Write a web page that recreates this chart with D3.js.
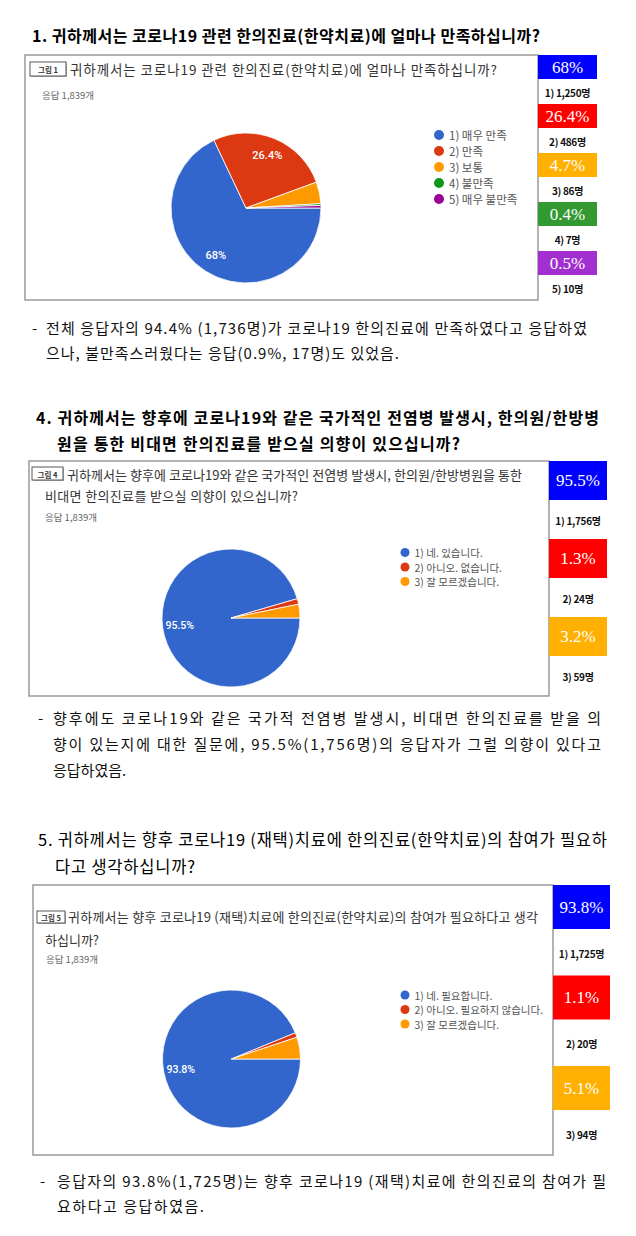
<!DOCTYPE html>
<html>
<head>
<meta charset="utf-8">
<script src="https://cdn.jsdelivr.net/npm/d3@7"></script>
<style>
  body { margin: 0; background: #fff; }
  svg { display: block; }
</style>
</head>
<body>
<div id="chart"></div>
<script>
// ---- data ----
const responses = 1839;

const q1Options = ["1) 매우 만족", "2) 만족", "3) 보통", "4) 불만족", "5) 매우 불만족"];
const q1Percents = [68, 26.4, 4.7, 0.4, 0.5];
const q1Counts = [1250, 486, 86, 7, 10];

const q4Options = ["1) 네. 있습니다.", "2) 아니오. 없습니다.", "3) 잘 모르겠습니다."];
const q4Percents = [95.5, 1.3, 3.2];
const q4Counts = [1756, 24, 59];

const q5Options = ["1) 네. 필요합니다.", "2) 아니오. 필요하지 않습니다.", "3) 잘 모르겠습니다."];
const q5Percents = [93.8, 1.1, 5.1];
const q5Counts = [1725, 20, 94];

const q1Title = ["1. 귀하께서는 코로나19 관련 한의진료(한약치료)에 얼마나 만족하십니까?"];
const q4Title = ["4. 귀하께서는 향후에 코로나19와 같은 국가적인 전염병 발생시, 한의원/한방병",
                 "원을 통한 비대면 한의진료를 받으실 의향이 있으십니까?"];
const q5Title = ["5. 귀하께서는 향후 코로나19 (재택)치료에 한의진료(한약치료)의 참여가 필요하",
                 "다고 생각하십니까?"];

const q1Question = ["귀하께서는 코로나19 관련 한의진료(한약치료)에 얼마나 만족하십니까?"];
const q4Question = ["귀하께서는 향후에 코로나19와 같은 국가적인 전염병 발생시, 한의원/한방병원을 통한",
                    "비대면 한의진료를 받으실 의향이 있으십니까?"];
const q5Question = ["귀하께서는 향후 코로나19 (재택)치료에 한의진료(한약치료)의 참여가 필요하다고 생각",
                    "하십니까?"];

const q1Note = ["전체 응답자의 94.4% (1,736명)가 코로나19 한의진료에 만족하였다고 응답하였",
                "으나, 불만족스러웠다는 응답(0.9%, 17명)도 있었음."];
const q4Note = ["향후에도 코로나19와 같은 국가적 전염병 발생시, 비대면 한의진료를 받을 의",
                "향이 있는지에 대한 질문에, 95.5%(1,756명)의 응답자가 그럴 의향이 있다고",
                "응답하였음."];
const q5Note = ["응답자의 93.8%(1,725명)는 향후 코로나19 (재택)치료에 한의진료의 참여가 필",
                "요하다고 응답하였음."];

const pieColors = ["#3366cc", "#dc3912", "#ff9900", "#109618", "#990099"];
const boxColors = ["#0000ff", "#ff0000", "#ffb000", "#339933", "#a22fd0"];

// ---- layout (positions only) ----
const sections = [
  {
    options: q1Options, percents: q1Percents, counts: q1Counts,
    title: q1Title, question: q1Question, note: q1Note, fig: "그림 1",
    titlePos: [{x: 32, y: 35, w: 508}], titleWeight: 700, titleSize: 16,
    box: {x: 25, y: 55, w: 513, h: 245},
    figBox: {x: 30, y: 62, w: 36, h: 14},
    qPos: [{x: 70, y: 69, w: 427}], qSize: 13.5,
    resp: {x: 42, y: 95},
    pie: {cx: 246, cy: 208, r: 75, label: 11},
    legend: {x: 439, y: 135, step: 16, r: 5, size: 11.5},
    side: {x: 538, w: 59, top: 55, step: 49, h: 24, labelOff: 37, size: 17},
    note_: {dashX: 32, lines: [{x: 46, y: 327, w: 541}, {x: 46, y: 352, w: 353}]}
  },
  {
    options: q4Options, percents: q4Percents, counts: q4Counts,
    title: q4Title, question: q4Question, note: q4Note, fig: "그림 4",
    titlePos: [{x: 36, y: 417, w: 563}, {x: 57, y: 443, w: 403}], titleWeight: 700, titleSize: 16,
    box: {x: 29, y: 461, w: 520, h: 235},
    figBox: {x: 32, y: 467, w: 31, h: 13},
    qPos: [{x: 67, y: 474, w: 455}, {x: 45, y: 495, w: 253}], qSize: 13,
    resp: {x: 45, y: 517},
    pie: {cx: 231, cy: 618, r: 69, label: 10.5},
    legend: {x: 405, y: 552.5, step: 14.5, r: 4.5, size: 10.5},
    side: {x: 549, w: 58, top: 461, step: 78, h: 39, labelOff: 59, size: 17},
    note_: {dashX: 38, lines: [{x: 53, y: 717, w: 548}, {x: 53, y: 743, w: 548}, {x: 53, y: 769, w: null}]}
  },
  {
    options: q5Options, percents: q5Percents, counts: q5Counts,
    title: q5Title, question: q5Question, note: q5Note, fig: "그림 5",
    titlePos: [{x: 38, y: 839, w: 569}, {x: 55, y: 866, w: 140}], titleWeight: 400, titleSize: 16.5,
    box: {x: 33, y: 885, w: 520, h: 270},
    figBox: {x: 37, y: 911, w: 28, h: 12},
    qPos: [{x: 68, y: 916, w: 470}, {x: 45, y: 939, w: null}], qSize: 13,
    resp: {x: 46, y: 959},
    pie: {cx: 231.5, cy: 1059, r: 69, label: 10.5},
    legend: {x: 405, y: 995, step: 14.5, r: 4.5, size: 10.5},
    side: {x: 553, w: 57, top: 885, step: 90.5, h: 44, labelOff: 68, size: 17},
    note_: {dashX: 40, lines: [{x: 57, y: 1180, w: 549}, {x: 57, y: 1205, w: 147}]}
  }
];

const W = 636, H = 1236;
const KR = "'Noto Sans CJK KR', 'Noto Sans', sans-serif";

const svg = d3.select("#chart").append("svg")
    .attr("width", W)
    .attr("height", H);

svg.append("rect").attr("width", W).attr("height", H).attr("fill", "#fff");

const fmt = d3.format(",");

// stretch a text line to a measured width, like justified type
function fitLine(sel, w) {
  if (w) sel.attr("textLength", w).attr("lengthAdjust", "spacing");
}

sections.forEach(function(s) {
  const g = svg.append("g");

  // section heading
  s.title.forEach(function(line, i) {
    const p = s.titlePos[i];
    g.append("text")
        .attr("x", p.x).attr("y", p.y)
        .attr("dominant-baseline", "central")
        .attr("font-family", KR)
        .attr("font-size", s.titleSize)
        .attr("font-weight", s.titleWeight)
        .attr("fill", "#000")
        .text(line)
        .call(fitLine, p.w);
  });

  // chart frame
  g.append("rect")
      .attr("x", s.box.x).attr("y", s.box.y)
      .attr("width", s.box.w).attr("height", s.box.h)
      .attr("fill", "#fff")
      .attr("stroke", "#8a8a8a")
      .attr("stroke-width", 1.3);

  // "그림 n" tag
  g.append("rect")
      .attr("x", s.figBox.x + 1).attr("y", s.figBox.y + 1)
      .attr("width", s.figBox.w).attr("height", s.figBox.h)
      .attr("fill", "#bbb");
  g.append("rect")
      .attr("x", s.figBox.x).attr("y", s.figBox.y)
      .attr("width", s.figBox.w).attr("height", s.figBox.h)
      .attr("fill", "#fff")
      .attr("stroke", "#444")
      .attr("stroke-width", 0.9);
  g.append("text")
      .attr("x", s.figBox.x + s.figBox.w / 2).attr("y", s.figBox.y + s.figBox.h / 2 + 0.5)
      .attr("text-anchor", "middle")
      .attr("dominant-baseline", "central")
      .attr("font-family", KR)
      .attr("font-size", 7.5)
      .attr("font-weight", 700)
      .attr("fill", "#333")
      .text(s.fig);

  // question text inside the frame
  s.question.forEach(function(line, i) {
    const p = s.qPos[i];
    g.append("text")
        .attr("x", p.x).attr("y", p.y)
        .attr("dominant-baseline", "central")
        .attr("font-family", KR)
        .attr("font-size", s.qSize)
        .attr("fill", "#333")
        .text(line)
        .call(fitLine, p.w);
  });

  g.append("text")
      .attr("x", s.resp.x).attr("y", s.resp.y)
      .attr("dominant-baseline", "central")
      .attr("font-family", KR)
      .attr("font-size", 9.5)
      .attr("fill", "#666")
      .text("응답 " + fmt(responses) + "개");

  // pie
  const rows = s.options.map(function(o, i) {
    return {label: o, pct: s.percents[i], count: s.counts[i], i: i};
  });

  const pie = d3.pie()
      .sort(null)
      .value(function(d) { return d.count; })
      .startAngle(Math.PI / 2)
      .endAngle(Math.PI / 2 + 2 * Math.PI);

  const arc = d3.arc().innerRadius(0).outerRadius(s.pie.r);
  const labelArc = d3.arc().innerRadius(s.pie.r * 0.75).outerRadius(s.pie.r * 0.75);

  const pg = g.append("g")
      .attr("transform", `translate(${s.pie.cx},${s.pie.cy})`);

  pg.selectAll("path")
    .data(pie(rows))
    .join("path")
      .attr("d", arc)
      .attr("fill", function(d) { return pieColors[d.data.i]; })
      .attr("stroke", "#fff")
      .attr("stroke-width", 0.8);

  pg.selectAll("text")
    .data(pie(rows).filter(function(d) { return d.data.pct >= 10; }))
    .join("text")
      .attr("transform", function(d) { return `translate(${labelArc.centroid(d)})`; })
      .attr("text-anchor", "middle")
      .attr("dominant-baseline", "central")
      .attr("font-family", "Roboto, Arial, sans-serif")
      .attr("font-size", s.pie.label)
      .attr("font-weight", 500)
      .attr("fill", "#fff")
      .text(function(d) { return d.data.pct + "%"; });

  // legend
  const lg = g.append("g")
      .selectAll("g")
      .data(rows)
      .join("g")
      .attr("transform", function(d) {
        return `translate(${s.legend.x},${s.legend.y + d.i * s.legend.step})`;
      });
  lg.append("circle")
      .attr("r", s.legend.r)
      .attr("fill", function(d) { return pieColors[d.i]; });
  lg.append("text")
      .attr("x", s.legend.r + 5)
      .attr("dominant-baseline", "central")
      .attr("font-family", KR)
      .attr("font-size", s.legend.size)
      .attr("fill", "#555")
      .text(function(d) { return d.label; });

  // side column: coloured percentage boxes + counts
  const sg = g.append("g")
      .selectAll("g")
      .data(rows)
      .join("g")
      .attr("transform", function(d) {
        return `translate(${s.side.x},${s.side.top + d.i * s.side.step})`;
      });
  sg.append("rect")
      .attr("width", s.side.w)
      .attr("height", s.side.h)
      .attr("fill", function(d) { return boxColors[d.i]; });
  sg.append("text")
      .attr("x", s.side.w / 2)
      .attr("y", s.side.h / 2)
      .attr("text-anchor", "middle")
      .attr("dominant-baseline", "central")
      .attr("font-family", "'Liberation Serif', 'DejaVu Serif', serif")
      .attr("font-size", s.side.size)
      .attr("fill", "#fff")
      .text(function(d) { return d.pct + "%"; });
  sg.append("text")
      .attr("x", s.side.w / 2)
      .attr("y", s.side.labelOff)
      .attr("text-anchor", "middle")
      .attr("dominant-baseline", "central")
      .attr("font-family", KR)
      .attr("font-size", 10)
      .attr("font-weight", 700)
      .attr("letter-spacing", "-0.3px")
      .attr("fill", "#111")
      .text(function(d) { return (d.i + 1) + ") " + fmt(d.count) + "명"; });

  // commentary paragraph
  g.append("text")
      .attr("x", s.note_.dashX).attr("y", s.note_.lines[0].y)
      .attr("dominant-baseline", "central")
      .attr("font-family", KR)
      .attr("font-size", 15)
      .attr("fill", "#111")
      .text("-");
  s.note.forEach(function(line, i) {
    const p = s.note_.lines[i];
    g.append("text")
        .attr("x", p.x).attr("y", p.y)
        .attr("dominant-baseline", "central")
        .attr("font-family", KR)
        .attr("font-size", 15)
        .attr("fill", "#111")
        .text(line)
        .call(fitLine, p.w);
  });
});
</script>
</body>
</html>
